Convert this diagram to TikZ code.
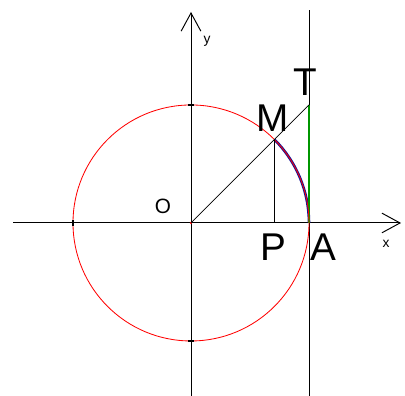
\documentclass[tikz,border=0pt]{standalone}
\usepackage{fontspec}
\setmainfont{Liberation Sans}
\usetikzlibrary{arrows.meta}
\definecolor{arcblue}{RGB}{20,20,150}
\definecolor{tangreen}{RGB}{0,150,0}
\begin{document}
\begin{tikzpicture}[
    >={Straight Barb[length=4.6mm,width=5mm]},
    axis/.style={->, line width=0.7pt},
    thin line/.style={line width=0.6pt},
    tickmark/.style={line width=0.8pt},
    big/.style={font=\fontsize{28}{30}\selectfont, inner sep=0pt},
    mid/.style={font=\fontsize{15}{17}\selectfont, inner sep=0pt},
    small/.style={font=\fontsize{10}{12}\selectfont, inner sep=0pt}
]
    \useasboundingbox (-4.856,-4.398) rectangle (5.441,5.669);

    % points
    \coordinate (O) at (0,0);
    \coordinate (A) at (3,0);
    \coordinate (T) at (3,3);
    \coordinate (M) at (45:3);
    \coordinate (P) at (M |- O);
    \coordinate (xl) at (-4.525,0);
    \coordinate (xr) at (5.34,0);
    \coordinate (yb) at (0,-4.398);
    \coordinate (yt) at (0,5.364);
    \coordinate (tb) at (3,-4.398);
    \coordinate (tt) at (3,5.415);

    % axes and tangent
    \draw[axis] (xl) -- (xr);
    \draw[axis] (yb) -- (yt);
    \draw[thin line] (tb) -- (tt);

    % arc and tangent segment
    \draw[arcblue, line width=1.9pt] (A) arc[start angle=0, end angle=45, radius=3];
    \draw[tangreen, line width=2pt] (A) -- (T);

    % circle
    \draw[red, line width=0.6pt] (O) circle (3);
    \fill[red] (O) circle (0.9pt);

    % ticks
    \draw[tickmark] (-0.08,3) -- (0.08,3);
    \draw[tickmark] (-0.08,-3) -- (0.08,-3);
    \draw[tickmark] (-3,-0.08) -- (-3,0.08);

    \draw[line width=0.5pt] (O) -- (T);
    \draw[thin line] (M) -- (P);

    % labels
    \node[small] (ly) at (0.407,4.62) {y};
    \node[small] (lx) at (4.958,-0.534) {x};
    \node[mid] (lO) at (-0.712,0.432) {O};
    \node[big] (lP) at (2.085,-0.610) {P};
    \node[big] (lA) at (3.356,-0.610) {A};
    \node[big] (lM) at (2.085,2.670) {M};
    \node[big] (lT) at (2.898,3.585) {T};
\end{tikzpicture}
\end{document}
